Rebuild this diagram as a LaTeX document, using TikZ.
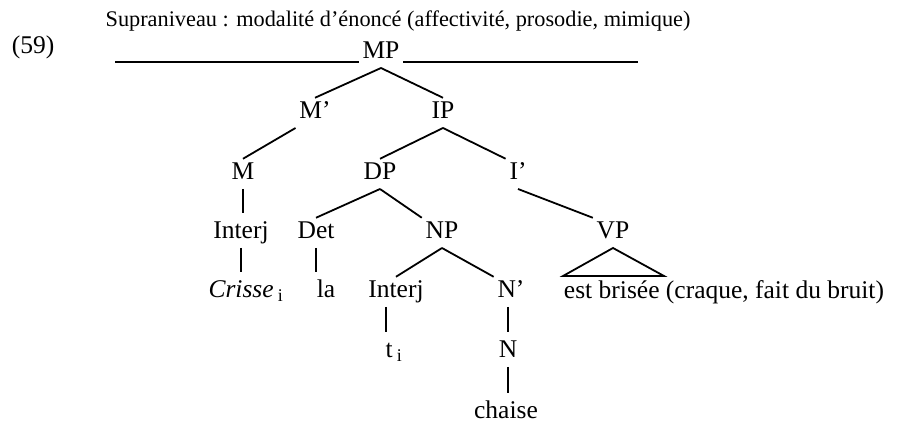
\documentclass[tikz,border=0pt]{standalone}
\usepackage{fontspec}
\setmainfont{Liberation Serif}
\usetikzlibrary{positioning}

\begin{document}
\begin{tikzpicture}[x=1pt,y=-1pt,semithick,line width=1.8pt]
\tikzstyle{cat}=[anchor=base,inner sep=3pt,text height=0.68em,text depth=0.2em]
\tikzstyle{branch}=[draw,line width=1.8pt]
\tikzstyle{stem}=[draw,line width=1.8pt,shorten >=5pt]
\fontsize{25.5}{30}\selectfont
\useasboundingbox (0,0) rectangle (897,427);

% heading
\node[anchor=base,font=\fontsize{22.3}{26}\selectfont] (title) at (398,27) {Supraniveau : modalité d’énoncé (affectivité, prosodie, mimique)};
\node[anchor=base] (num) at (33,54) {(59)};

% the tree
\node[cat] (MP) at (381,59) {MP};
\node[cat] (Mb) at (315,119) {M’};
\node[cat] (IP) at (443,119) {IP};
\node[cat] (M) at (243,180) {M};
\node[cat] (DP) at (380,180) {DP};
\node[cat] (Ib) at (518,180) {I’};
\node[cat] (Int1) at (241,239) {Interj};
\node[cat] (Det) at (316,239) {Det};
\node[cat] (NP) at (442,239) {NP};
\node[cat] (VP) at (613,239) {VP};
\node[cat] (Cr) at (246,298) {\textit{Crisse}\,\textsubscript{i}};
\node[cat] (la) at (326,298) {la};
\node[cat] (Int2) at (396,298) {Interj};
\node[cat] (Nb) at (511,298) {N’};
\node[cat] (est) at (724,299) {est brisée (craque, fait du bruit)};
\node[cat] (t) at (394,358) {t\,\textsubscript{i}};
\node[cat] (N) at (508,358) {N};
\node[cat] (ch) at (506,419) {chaise};

% rule through MP
\coordinate (ruleA) at (115,62);
\coordinate (ruleB) at (638,62);
\draw[line width=1.3pt] (ruleA) -- (ruleA -| MP.west);
\draw[line width=1.3pt] (MP.east |- ruleB) -- (ruleB);

\path
(MP.south) edge[branch] (Mb.north)
(MP.south) edge[branch] (IP.north)
(Mb.south west) edge[branch] (M.north)
(IP.south) edge[branch] (DP.north)
(IP.south) edge[branch] (Ib.north west)
(DP.south) edge[branch] (Det.north)
(DP.south) edge[branch] (NP.north west)
(Ib.south) edge[branch] (VP.north west)
(NP.south) edge[branch] (Int2.north)
(NP.south) edge[branch] (Nb.north west)
(M.south) edge[stem] (M.south |- Int1.north)
(Int1.south) edge[stem] (Int1.south |- Cr.north)
(Det.south) edge[stem] (Det.south |- la.north)
([xshift=-10pt]Int2.south) edge[stem] ([xshift=-10pt]Int2.south |- t.north)
(Nb.south -| N.north) edge[stem] (N.north)
(N.south) edge[stem] (N.south |- ch.north);

% VP triangle
\draw (VP.south) -- ++(-50,28) -- ++(101,0) -- cycle;
\end{tikzpicture}
\end{document}
